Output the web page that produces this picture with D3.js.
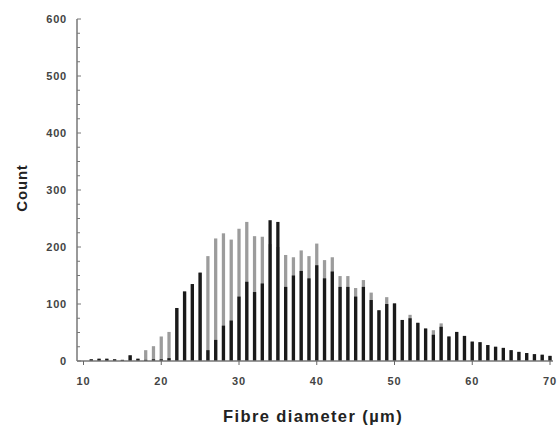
<!DOCTYPE html>
<html>
<head>
<meta charset="utf-8">
<script src="https://cdn.jsdelivr.net/npm/d3@7/dist/d3.min.js"></script>
<style>
  html, body { margin: 0; padding: 0; background: #fff; }
  svg { display: block; }
  text { font-family: "Liberation Sans", Arial, sans-serif; fill: #222; }
</style>
</head>
<body>
<svg id="chart" width="560" height="430"></svg>
<script>
// Fibre diameter bins (µm, 1 µm classes)
const bins = d3.range(11, 71);
// grey series (drawn behind)
const greyCounts = [3, 4, 4, 3, 2, 10, 4, 19, 26, 43,
  51, 93, 122, 135, 155, 184, 215, 224, 213, 232,
  244, 219, 218, 205, 200, 186, 182, 194, 184, 206,
  177, 182, 149, 149, 128, 142, 120, 89, 112, 101,
  72, 81, 67, 57, 54, 66, 43, 51, 44, 34,
  33, 28, 25, 23, 19, 16, 14, 12, 11, 9];
// black series (drawn in front)
const blackCounts = [3, 4, 4, 3, 2, 10, 4, 2, 3, 3,
  5, 93, 122, 135, 155, 19, 37, 62, 71, 113,
  139, 121, 136, 247, 244, 130, 150, 158, 145, 168,
  145, 157, 130, 130, 113, 130, 107, 89, 100, 101,
  72, 75, 67, 57, 46, 60, 43, 51, 44, 34,
  33, 28, 25, 23, 19, 16, 14, 12, 11, 9];
const xTicks = [10, 20, 30, 40, 50, 60, 70];
const yTicks = [0, 100, 200, 300, 400, 500, 600];
const xLabel = "Fibre diameter (µm)";
const yLabel = "Count";

const svg = d3.select("#chart");
const x = d3.scaleLinear().domain([10, 70]).range([83.5, 550]);
const y = d3.scaleLinear().domain([0, 600]).range([361, 19]);
const axisX0 = 77;
const barW = (x(1) - x(0)) * 0.42;

// grey bars
svg.append("g").selectAll("rect").data(bins).join("rect")
  .attr("x", (d) => x(d) - barW / 2)
  .attr("width", barW)
  .attr("y", (d, i) => y(greyCounts[i]))
  .attr("height", (d, i) => y(0) - y(greyCounts[i]))
  .attr("fill", "#9c9c9c");

// black bars
svg.append("g").selectAll("rect").data(bins).join("rect")
  .attr("x", (d) => x(d) - barW / 2)
  .attr("width", barW)
  .attr("y", (d, i) => y(blackCounts[i]))
  .attr("height", (d, i) => y(0) - y(blackCounts[i]))
  .attr("fill", "#1a1a1a");

// y axis
const yAxis = svg.append("g").attr("transform", `translate(${axisX0},0)`);
yAxis.append("line").attr("x1", 0).attr("x2", 0).attr("y1", y(600)).attr("y2", y(0))
  .attr("stroke", "#555").attr("stroke-width", 1.2);
yAxis.selectAll("line.minor").data(d3.range(0, 601, 25)).join("line")
  .attr("class", "minor")
  .attr("x1", 0).attr("x2", (d) => d % 100 === 0 ? 4 : 3)
  .attr("y1", (d) => y(d)).attr("y2", (d) => y(d))
  .attr("stroke", "#777").attr("stroke-width", 1);
yAxis.selectAll("text").data(yTicks).join("text")
  .attr("x", -10).attr("y", (d) => y(d)).attr("dy", "0.35em")
  .attr("text-anchor", "end")
  .style("font-size", "11px").style("font-weight", "bold").style("fill", "#444")
  .style("letter-spacing", "0.8px")
  .text((d) => d);

// x axis
const xAxis = svg.append("g").attr("transform", `translate(0,${y(0)})`);
xAxis.append("line").attr("x1", axisX0).attr("x2", 553).attr("y1", 0).attr("y2", 0)
  .attr("stroke", "#777").attr("stroke-width", 1.5);
xAxis.selectAll("line.tick").data(xTicks).join("line")
  .attr("class", "tick")
  .attr("x1", (d) => x(d)).attr("x2", (d) => x(d)).attr("y1", 0).attr("y2", 4)
  .attr("stroke", "#666");
xAxis.selectAll("text").data(xTicks).join("text")
  .attr("x", (d) => x(d)).attr("y", 24)
  .attr("text-anchor", "middle")
  .style("font-size", "11px").style("font-weight", "bold").style("fill", "#444")
  .style("letter-spacing", "0.8px")
  .text((d) => d);

// axis titles
svg.append("text").attr("x", 313).attr("y", 422).attr("text-anchor", "middle")
  .style("font-size", "16.5px").style("font-weight", "bold")
  .style("letter-spacing", "1.4px")
  .text(xLabel);
svg.append("text").attr("transform", "translate(27,188) rotate(-90)")
  .attr("text-anchor", "middle")
  .style("font-size", "15px").style("font-weight", "bold")
  .style("letter-spacing", "0.8px")
  .text(yLabel);
</script>
</body>
</html>
